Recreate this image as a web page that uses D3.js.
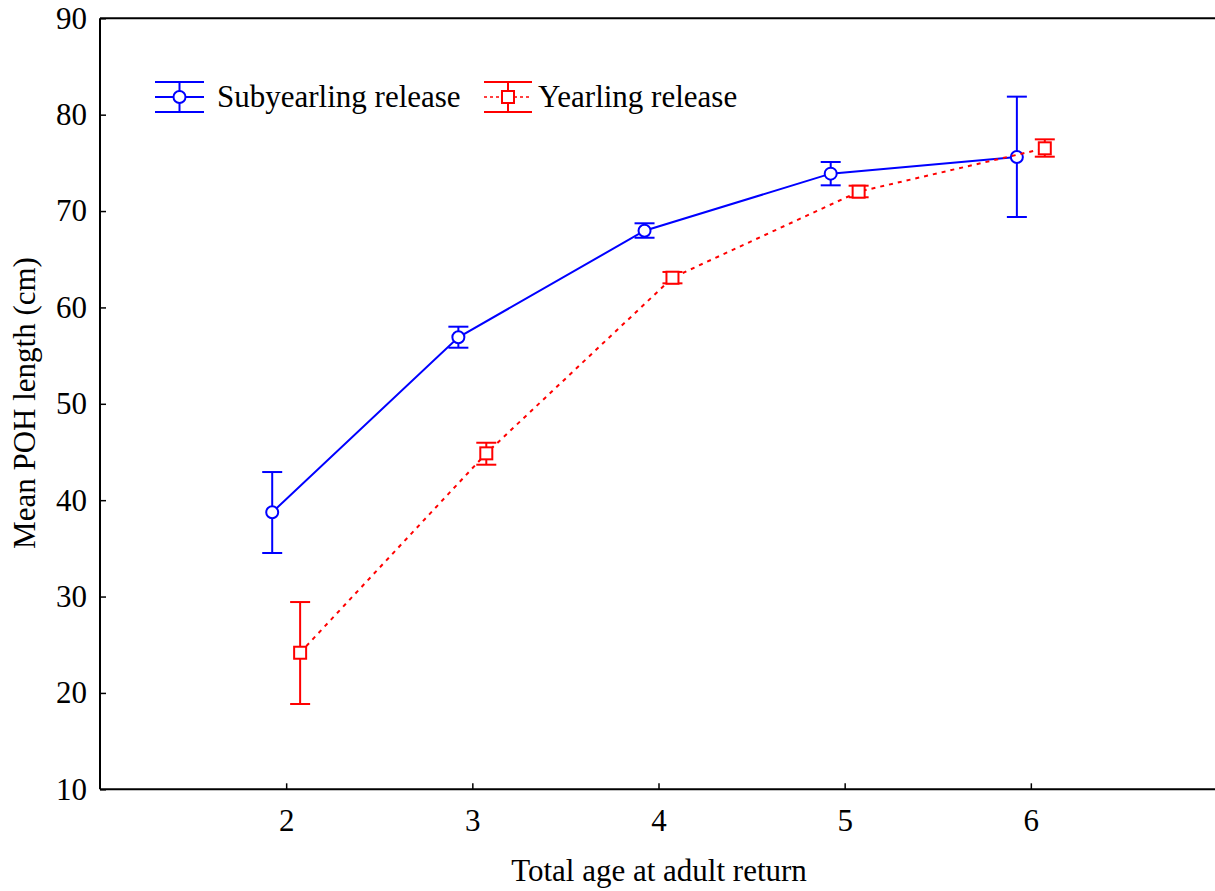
<!DOCTYPE html>
<html>
<head>
<meta charset="utf-8">
<script src="https://cdn.jsdelivr.net/npm/d3@7"></script>
<style>
  html, body { margin: 0; padding: 0; background: #fff; }
  svg { display: block; }
  text { font-family: "Liberation Serif", "Times New Roman", serif; }
</style>
</head>
<body>
<svg id="chart" width="1215" height="891"></svg>
<script>
// ---- Data ----
const ages = [2, 3, 4, 5, 6];
const subMean  = [38.74, 56.9, 67.96, 73.88, 75.61];
const subUpper = [42.92, 58.0, 68.73, 75.09, 81.87];
const subLower = [34.52, 55.82, 67.23, 72.67, 69.38];
const yrlMean  = [24.17, 44.86, 63.08, 72.01, 76.51];
const yrlUpper = [29.43, 45.96, 63.68, 72.63, 77.44];
const yrlLower = [18.85, 43.68, 62.5, 71.43, 75.64];
const xTicks = [2, 3, 4, 5, 6];
const yTicks = [10, 20, 30, 40, 50, 60, 70, 80, 90];
const seriesNames = ["Subyearling release", "Yearling release"];

// ---- Layout ----
const svg = d3.select("#chart");
const pLeft = 100, pRight = 1217, pTop = 18.3, pBottom = 789.3;
const x = d3.scaleLinear().domain([1, 7]).range([pLeft, pRight]);
const y = d3.scaleLinear().domain([10, 90]).range([pBottom, pTop]);
const FS = 31;
const offset = 0.075;

// frame top line
svg.append("line").attr("x1", pLeft).attr("x2", 1215).attr("y1", pTop).attr("y2", pTop)
  .attr("stroke", "#000").attr("stroke-width", 2);

// axes
const yAxis = svg.append("g").attr("transform", `translate(${pLeft},0)`)
  .call(d3.axisLeft(y).tickValues(yTicks).tickFormat(d3.format("d")).tickSize(-6).tickSizeOuter(0).tickPadding(13));
const xAxis = svg.append("g").attr("transform", `translate(0,${pBottom})`)
  .call(d3.axisBottom(x).tickValues(xTicks).tickFormat(d3.format("d")).tickSize(-6).tickSizeOuter(0).tickPadding(20));
[yAxis, xAxis].forEach(g => {
  g.selectAll("path.domain").attr("stroke", "#000").attr("stroke-width", 2);
  g.selectAll(".tick line").attr("stroke", "#000").attr("stroke-width", 1.5);
  g.selectAll(".tick text").attr("fill", "#000").style("font-size", FS + "px")
    .style("font-family", "'Liberation Serif', serif");
});
yAxis.select("path.domain").attr("d", `M0,${pBottom}V${pTop}`);
xAxis.select("path.domain").attr("d", `M${pLeft},0H1215`);

// axis titles
svg.append("text").attr("x", 659).attr("y", 881).attr("text-anchor", "middle")
  .style("font-size", FS + "px").text("Total age at adult return");
svg.append("text").attr("transform", `translate(35,403) rotate(-90)`).attr("text-anchor", "middle")
  .style("font-size", FS + "px").text("Mean POH length (cm)");

function drawSeries(means, uppers, lowers, dx, color, dashed, marker) {
  const pts = ages.map((a, i) => ({ a: a + dx, m: means[i], u: uppers[i], l: lowers[i] }));
  const g = svg.append("g");
  g.append("path").datum(pts)
    .attr("d", d3.line().x(d => x(d.a)).y(d => y(d.m)))
    .attr("fill", "none").attr("stroke", color).attr("stroke-width", 2)
    .attr("stroke-dasharray", dashed ? "4,5" : null);
  const eb = g.selectAll("g.eb").data(pts).join("g");
  eb.append("line").attr("x1", d => x(d.a)).attr("x2", d => x(d.a))
    .attr("y1", d => y(d.u)).attr("y2", d => y(d.l)).attr("stroke", color).attr("stroke-width", 2);
  eb.append("line").attr("x1", d => x(d.a) - 10).attr("x2", d => x(d.a) + 10)
    .attr("y1", d => y(d.u)).attr("y2", d => y(d.u)).attr("stroke", color).attr("stroke-width", 2);
  eb.append("line").attr("x1", d => x(d.a) - 10).attr("x2", d => x(d.a) + 10)
    .attr("y1", d => y(d.l)).attr("y2", d => y(d.l)).attr("stroke", color).attr("stroke-width", 2);
  if (marker === "circle") {
    eb.append("circle").attr("cx", d => x(d.a)).attr("cy", d => y(d.m)).attr("r", 6)
      .attr("fill", "#fff").attr("stroke", color).attr("stroke-width", 2);
  } else {
    eb.append("rect").attr("x", d => x(d.a) - 6).attr("y", d => y(d.m) - 6)
      .attr("width", 12).attr("height", 12)
      .attr("fill", "#fff").attr("stroke", color).attr("stroke-width", 2);
  }
}
drawSeries(subMean, subUpper, subLower, -offset, "#0000ff", false, "circle");
drawSeries(yrlMean, yrlUpper, yrlLower, offset, "#ff0000", true, "square");

// legend
function legendItem(x0, x1, textX, color, dashed, marker, label) {
  const g = svg.append("g");
  const cx = (x0 + x1) / 2, yt = 82, ym = 97, yb = 112;
  g.append("line").attr("x1", x0).attr("x2", x1).attr("y1", yt).attr("y2", yt).attr("stroke", color).attr("stroke-width", 2);
  g.append("line").attr("x1", x0).attr("x2", x1).attr("y1", yb).attr("y2", yb).attr("stroke", color).attr("stroke-width", 2);
  g.append("line").attr("x1", x0).attr("x2", x1).attr("y1", ym).attr("y2", ym).attr("stroke", color).attr("stroke-width", dashed ? 1.5 : 2)
    .attr("stroke-dasharray", dashed ? "3,3" : null);
  g.append("line").attr("x1", cx).attr("x2", cx).attr("y1", yt).attr("y2", yb).attr("stroke", color).attr("stroke-width", 2);
  if (marker === "circle") {
    g.append("circle").attr("cx", cx).attr("cy", ym).attr("r", 6).attr("fill", "#fff").attr("stroke", color).attr("stroke-width", 2);
  } else {
    g.append("rect").attr("x", cx - 6).attr("y", ym - 6).attr("width", 12).attr("height", 12)
      .attr("fill", "#fff").attr("stroke", color).attr("stroke-width", 2);
  }
  g.append("text").attr("x", textX).attr("y", 107).style("font-size", FS + "px").text(label);
}
legendItem(155, 204, 217, "#0000ff", false, "circle", seriesNames[0]);
legendItem(484, 532, 538, "#ff0000", true, "square", seriesNames[1]);
</script>
</body>
</html>
